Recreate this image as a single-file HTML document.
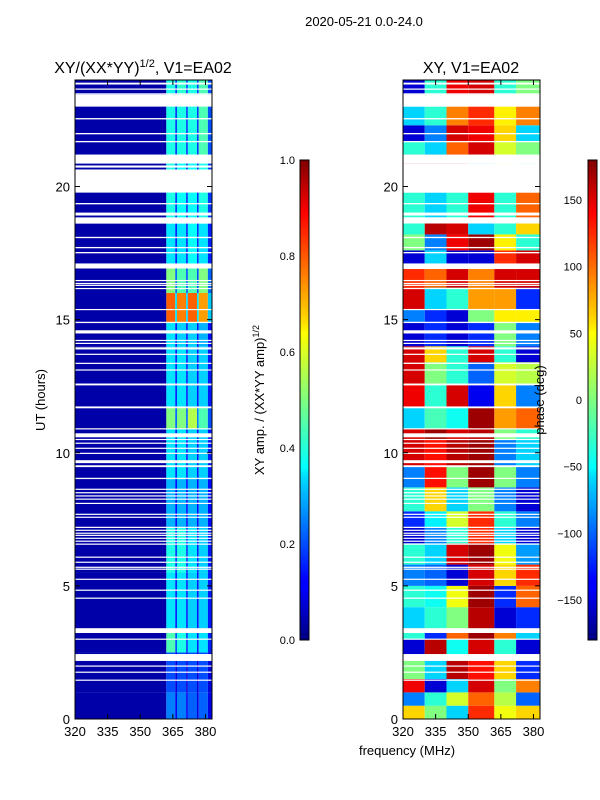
<!DOCTYPE html>
<html><head><meta charset="utf-8"><style>
body{margin:0;background:#fff;}
svg{display:block;font-family:"Liberation Sans",sans-serif;}
</style></head><body>
<svg id="fig" width="600" height="800" viewBox="0 0 600 800">
<defs>
<linearGradient id="jet" x1="0" y1="1" x2="0" y2="0">
<stop offset="0" stop-color="#00007f"/><stop offset="0.11" stop-color="#0000ff"/>
<stop offset="0.125" stop-color="#0000ff"/><stop offset="0.34" stop-color="#00dcff"/>
<stop offset="0.36" stop-color="#0ff"/><stop offset="0.5" stop-color="#7fff7f"/>
<stop offset="0.64" stop-color="#ff0"/><stop offset="0.66" stop-color="#ffe000"/>
<stop offset="0.89" stop-color="#f00"/><stop offset="1" stop-color="#7f0000"/>
</linearGradient>
</defs>
<text x="364" y="26" font-size="13" text-anchor="middle">2020-05-21 0.0-24.0</text>
<text x="143" y="73" font-size="16" text-anchor="middle">XY/(XX*YY)<tspan font-size="11" dy="-6">1/2</tspan><tspan dy="6">, V1=EA02</tspan></text>
<text x="471" y="73" font-size="16" text-anchor="middle">XY, V1=EA02</text>
<g id="left"></g>
<g id="right"></g>
<g id="axes"></g>
<text transform="translate(45,400) rotate(-90)" font-size="13" text-anchor="middle">UT (hours)</text>
<text x="407" y="755" font-size="13" text-anchor="middle">frequency (MHz)</text>
<text transform="translate(264,400) rotate(-90)" font-size="13" text-anchor="middle">XY amp. / (XX*YY amp)<tspan font-size="9" dy="-5">1/2</tspan></text>
<text transform="translate(544,400) rotate(-90)" font-size="13" text-anchor="middle">phase (deg)</text>
<rect x="300" y="160" width="9" height="480" fill="url(#jet)" stroke="#000" stroke-width="1"/>
<rect x="588" y="160" width="9" height="480" fill="url(#jet)" stroke="#000" stroke-width="1"/>
</svg>
<script>
// ---- data ----
const gaps = [[23.83,23.9],[23.64,23.68],[23.47,23.5],[23.0,23.45],[22.52,22.57],[21.96,22.01],[21.66,21.71],[20.86,21.2],[20.71,20.79],[19.77,20.64],[19.33,19.38],[18.91,19.02],[18.61,18.84],[18.06,18.11],[17.68,17.73],[17.49,17.54],[16.92,17.11],[16.45,16.49],[16.34,16.38],[16.27,16.31],[16.15,16.19],[15.36,15.4],[14.87,14.92],[14.48,14.6],[14.2,14.24],[14.09,14.13],[13.88,13.96],[13.68,13.72],[13.34,13.38],[13.1,13.13],[12.53,12.6],[11.67,11.74],[10.88,10.92],[10.58,10.73],[10.48,10.52],[10.34,10.38],[10.15,10.19],[9.96,10.0],[9.61,9.72],[9.46,9.53],[9.02,9.06],[8.61,8.65],[8.48,8.52],[8.36,8.4],[8.24,8.28],[8.08,8.12],[7.67,7.71],[7.56,7.6],[7.18,7.22],[7.07,7.11],[6.96,7.0],[6.88,6.92],[6.77,6.81],[6.66,6.7],[6.55,6.59],[6.06,6.1],[5.87,5.91],[5.68,5.72],[5.61,5.65],[5.23,5.27],[4.82,4.86],[4.52,4.56],[3.23,3.41],[2.98,3.02],[2.18,2.44],[1.97,2.01],[1.74,1.78],[1.44,1.48]];
const ampStart = [0,1,2.5,3.4,5.5,7.2,9,10.9,11.7,14,14.9,16,17,18.6,21,23.45];
const ampEnd   = [1,2.5,3.4,5.5,7.2,9,10.9,11.7,14,14.9,16,17,18.6,21,23.45,24];
const ampBand1 = [0.25,0.2,0.45,0.35,0.4,0.3,0.35,0.5,0.35,0.35,0.78,0.5,0.35,0.4,0.4,0.4];
const ampBand2 = [0.25,0.2,0.4,0.35,0.4,0.3,0.35,0.5,0.35,0.33,0.75,0.45,0.35,0.38,0.4,0.42];
const ampBand3 = [0.22,0.2,0.35,0.33,0.35,0.3,0.33,0.55,0.33,0.33,0.78,0.45,0.38,0.38,0.4,0.4];
const ampBand4 = [0.22,0.2,0.35,0.33,0.33,0.3,0.33,0.45,0.33,0.3,0.72,0.5,0.35,0.4,0.45,0.45];
const ampBase = 0.04;
const bandEdges = [362,366.5,371.5,376.5,381.5];
const phaseFreqEdges = [320,330,340,350,362,372,383];
const phaseStart = [0,0.5,1.0,1.5,2.2,3.0,3.4,4.2,5.0,5.8,6.6,7.2,7.8,8.7,9.5,10.5,10.9,11.7,12.6,13.4,14,14.9,15.4,16.2,17,17.6,18.2,18.84,20.86,21.2,21.7,22.3,23.45];
const phaseEnd   = [0.5,1.0,1.5,2.2,3.0,3.4,4.2,5.0,5.8,6.6,7.2,7.8,8.7,9.5,10.5,10.9,11.7,12.6,13.4,14,14.9,15.4,16.2,16.9,17.6,18.2,18.61,19.77,21.2,21.7,22.3,23.0,24];
const phaseVals = [[60,0,-60,120,40,60],[-90,-30,30,100,20,-100],[140,-150,-60,150,0,90],[0,-60,160,130,60,-120],[-150,160,-40,150,-30,-150],[-30,-120,100,170,90,-60],[-60,-30,0,160,-150,-120],[-30,-40,40,170,-120,100],[-90,-100,-150,150,60,120],[-30,-60,150,170,40,-80],[-150,-90,-30,120,-60,-150],[-120,-50,30,120,-30,-90],[-30,60,-60,0,-90,-150],[-90,130,0,170,0,-90],[150,130,160,170,-90,-60],[150,170,150,160,0,-30],[-60,-20,-40,170,80,100],[140,-30,150,-140,60,-90],[150,0,-30,-100,30,20],[150,60,-30,150,-30,-150],[-150,-120,-150,-120,0,-90],[-90,-120,-150,0,50,50],[150,-60,-30,80,80,-120],[120,100,150,90,150,150],[-150,-60,-150,-150,120,150],[0,-90,140,170,50,-30],[-30,160,150,-60,-30,60],[-30,-60,-30,140,-30,100],[150,150,150,-60,30,-30],[-30,-60,100,150,30,0],[-150,-90,150,140,60,-60],[-60,-30,90,120,50,90],[-150,-30,140,150,-30,0]];
const yTicks = [0,5,10,15,20];
const xTicks = [320,335,350,365,380];
const ampTicks = [0.0,0.2,0.4,0.6,0.8,1.0];
const phaseTicks = [-150,-100,-50,0,50,100,150];

const NS='http://www.w3.org/2000/svg';
const Y0=719,Y1=80;
const yS=t=>Y0-(t/24)*(Y0-Y1);
const xL=f=>75+(f-320)*(137/63);
const xR=f=>403+(f-320)*(137/63);
const cbA=v=>640-v*480;
const cbP=v=>640-(v+180)/360*480;
function jet(v){v=Math.max(0,Math.min(1,v));
 const c=x=>Math.round(255*Math.max(0,Math.min(1,x)));
 const r=c(1.5-Math.abs(4*v-3)), g=c(1.5-Math.abs(4*v-2)), b=c(1.5-Math.abs(4*v-1));
 return `rgb(${r},${g},${b})`;}
function mk(tag,attrs,parent){const e=document.createElementNS(NS,tag);for(const k in attrs)e.setAttribute(k,attrs[k]);parent.appendChild(e);return e;}

const L=document.getElementById('left'), R=document.getElementById('right'), A=document.getElementById('axes');
for(let i=0;i<ampStart.length;i++){
  const y1=yS(ampEnd[i]), y2=yS(ampStart[i]);
  let r=mk('rect',{x:xL(320),y:y1,width:xL(bandEdges[0])-xL(320),height:y2-y1,fill:jet(ampBase)},L);
  
  
  const bands=[ampBand1[i],ampBand2[i],ampBand3[i],ampBand4[i]];
  for(let b=0;b<4;b++){
    const f0=bandEdges[b]+(b?0.4:0), f1=bandEdges[b+1]-0.4;
    r=mk('rect',{x:xL(f0),y:y1,width:xL(f1)-xL(f0),height:y2-y1,fill:jet(bands[b])},L);
    
    
    const g0=f1, g1=b<3?bandEdges[b+1]+0.4:383;
    r=mk('rect',{x:xL(g0),y:y1,width:xL(g1)-xL(g0),height:y2-y1,fill:jet(bands[b]*0.45)},L);
    
    
  }
}
for(let i=0;i<phaseStart.length;i++){
  const y1=yS(phaseEnd[i]), y2=yS(phaseStart[i]);
  for(let s=0;s<6;s++){
    const r=mk('rect',{x:xR(phaseFreqEdges[s]),y:y1,width:xR(phaseFreqEdges[s+1])-xR(phaseFreqEdges[s]),height:y2-y1,fill:jet((phaseVals[i][s]+180)/360)},R);
    
    
  }
}
for(const g of gaps){
  const y1=yS(g[1]), y2=yS(g[0]);
  let r=mk('rect',{x:75,y:y1,width:137,height:Math.max(1.2,y2-y1),fill:'#fff'},L);
  
  
  r=mk('rect',{x:403,y:y1,width:137,height:Math.max(1.2,y2-y1),fill:'#fff'},R);
  
  
}
for(const x0 of [75,403]){
  const f=mk('rect',{x:x0,y:Y1,width:137,height:Y0-Y1,fill:'none',stroke:'#000','stroke-width':1},A);
  
  
  for(const t of yTicks){
    const y=yS(t);
    mk('line',{x1:x0,x2:x0+5,y1:y,y2:y,stroke:'#000'},A);
    mk('line',{x1:x0+137,x2:x0+132,y1:y,y2:y,stroke:'#000'},A);
    const tx=mk('text',{x:x0-5,y:y+5,'font-size':13,'text-anchor':'end'},A);
    tx.textContent=t;
    
    
  }
  const xs=x0===75?xL:xR;
  for(const t of xTicks){
    const x=xs(t);
    mk('line',{x1:x,x2:x,y1:Y0,y2:Y0-5,stroke:'#000'},A);
    mk('line',{x1:x,x2:x,y1:Y1,y2:Y1+5,stroke:'#000'},A);
    const tx=mk('text',{x:x,y:Y0+17,'font-size':13,'text-anchor':'middle'},A);
    tx.textContent=t;
    
    
  }
}
for(const t of ampTicks){
  const y=cbA(t);
  mk('line',{x1:300,x2:309,y1:y,y2:y,stroke:'#000'},A);
  const tx=mk('text',{x:295,y:y+4,'font-size':11,'text-anchor':'end'},A);
  tx.textContent=t.toFixed(1);
  
  
}
for(const t of phaseTicks){
  const y=cbP(t);
  mk('line',{x1:588,x2:597,y1:y,y2:y,stroke:'#000'},A);
  const tx=mk('text',{x:582,y:y+4,'font-size':11,'text-anchor':'end'},A);
  tx.textContent=t<0?'\u2212'+(-t):String(t);
  
  
}
</script>
</body></html>
